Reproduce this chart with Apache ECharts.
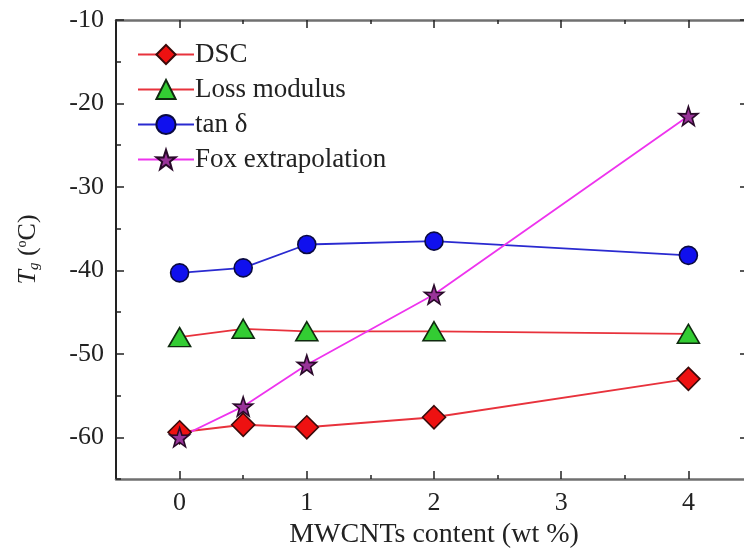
<!DOCTYPE html>
<html>
<head>
<meta charset="utf-8">
<script src="https://cdn.jsdelivr.net/npm/echarts@6/dist/echarts.min.js"></script>
<style>
  html, body { margin: 0; padding: 0; background: #fff; overflow: hidden; }
  #wrap { width: 744px; height: 551px; overflow: hidden; }
  /* plot frame runs slightly past the right edge of the view */
  #chart { width: 760px; height: 551px; }
</style>
</head>
<body>
<div id="wrap"><div id="chart"></div></div>
<script>
// MWCNT loading (wt %)
const contents = [0, 0.5, 1, 2, 4];

// Glass transition temperatures (°C) by method
const dscTg = [-59.4, -58.5, -58.8, -57.6, -53.0];
const lossModulusTg = [-48.0, -47.0, -47.3, -47.3, -47.6];
const tanDeltaTg = [-40.3, -39.7, -36.9, -36.5, -38.2];
const foxTg = [-60.0, -56.3, -51.3, -42.9, -21.5];

// Tick positions
const xMajor = [0, 1, 2, 3, 4];
const xMinor = [-0.5, 0.5, 1.5, 2.5, 3.5, 4.5];
const yMajor = [-60, -50, -40, -30, -20, -10];
const yMinor = [-65, -55, -45, -35, -25, -15];

const serif = '"Liberation Serif", "DejaVu Serif", serif';
const ink = '#222';
const starPath = 'path://M50,0 L61.8,35.3 L97.6,34.5 L69.1,56.1 L79.4,90.5 L50,70 L20.6,90.5 L30.9,56.1 L2.4,34.5 L38.2,35.3 Z';

const pair = (xs, ys) => xs.map((x, i) => [x, ys[i]]);

function xAxisDef(position, ticks, len, withLine, extra) {
  return Object.assign({
    type: 'value', min: -0.5, max: 4.5, position: position,
    splitLine: { show: false },
    axisLine: { show: withLine, onZero: false, lineStyle: { color: '#707070', width: 2.5 } },
    axisTick: { show: true, inside: true, length: len, customValues: ticks, lineStyle: { color: ink, width: 1.5 } },
    axisLabel: { show: false }
  }, extra || {});
}
function yAxisDef(position, ticks, len, withLine, extra) {
  return Object.assign({
    type: 'value', min: -65, max: -10, position: position,
    splitLine: { show: false },
    axisLine: { show: withLine, onZero: false, lineStyle: { color: ink, width: 2 } },
    axisTick: { show: true, inside: true, length: len, customValues: ticks, lineStyle: { color: ink, width: 1.5 } },
    axisLabel: { show: false }
  }, extra || {});
}

const chart = echarts.init(document.getElementById('chart'), null, { renderer: 'canvas' });

chart.setOption({
  animation: false,
  backgroundColor: '#fff',
  grid: { left: 116, top: 20, right: 8, bottom: 72, containLabel: false, outerBoundsMode: 'none' },
  legend: {
    left: 132, top: 36, orient: 'vertical',
    itemWidth: 56, itemHeight: 24, itemGap: 8,
    textStyle: { fontFamily: serif, fontSize: 27, color: ink, padding: [0, 0, 0, -4] },
    data: ['DSC', 'Loss modulus', 'tan δ', 'Fox extrapolation']
  },
  xAxis: [
    xAxisDef('bottom', xMajor, 8, true, {
      axisLabel: {
        show: true, customValues: xMajor, margin: 11,
        fontFamily: serif, fontSize: 26, color: ink
      },
      name: 'MWCNTs content (wt %)', nameLocation: 'middle', nameGap: 38,
      nameTextStyle: { fontFamily: serif, fontSize: 28, color: ink }
    }),
    xAxisDef('top', xMajor, 8, true),
    xAxisDef('bottom', xMinor, 4, false),
    xAxisDef('top', xMinor, 4, false)
  ],
  yAxis: [
    yAxisDef('left', yMajor, 8, true, {
      axisLabel: {
        show: true, customValues: yMajor, margin: 12,
        fontFamily: serif, fontSize: 26, color: ink
      },
      name: '{i|T}{s|g} ({sup|o}C)', nameLocation: 'middle', nameGap: 74, nameRotate: 90,
      nameTextStyle: {
        fontFamily: serif, fontSize: 26, color: ink,
        rich: {
          i: { fontFamily: serif, fontSize: 26, fontStyle: 'italic', color: ink },
          s: { fontFamily: serif, fontSize: 15, fontStyle: 'italic', color: ink, verticalAlign: 'bottom', padding: [12, 0, 0, 0] },
          sup: { fontFamily: serif, fontSize: 14, color: ink, verticalAlign: 'top', padding: [0, 0, 12, 0] }
        }
      }
    }),
    yAxisDef('right', yMajor, 12, true),
    yAxisDef('left', yMinor, 5, false),
    yAxisDef('right', yMinor, 8, false)
  ],
  series: [
    {
      name: 'DSC', type: 'line', data: pair(contents, dscTg),
      symbol: 'diamond', symbolSize: 23,
      lineStyle: { color: '#e8323c', width: 1.8 },
      itemStyle: { color: '#ee1111', borderColor: '#3a0a0a', borderWidth: 1.6 }
    },
    {
      name: 'Loss modulus', type: 'line', data: pair(contents, lossModulusTg),
      symbol: 'triangle', symbolSize: [22, 19],
      lineStyle: { color: '#e8323c', width: 1.8 },
      itemStyle: { color: '#33cc33', borderColor: '#0f2a0f', borderWidth: 1.6 }
    },
    {
      name: 'tan δ', type: 'line', data: pair(contents, tanDeltaTg),
      symbol: 'circle', symbolSize: 18,
      lineStyle: { color: '#2a2ad0', width: 1.8 },
      itemStyle: { color: '#1010ee', borderColor: '#0a0a40', borderWidth: 1.6 }
    },
    {
      name: 'Fox extrapolation', type: 'line', data: pair(contents, foxTg),
      symbol: starPath, symbolSize: 19,
      lineStyle: { color: '#ee33ee', width: 1.8 },
      itemStyle: { color: '#993399', borderColor: '#2a0a2a', borderWidth: 1.6 }
    }
  ]
});
</script>
</body>
</html>
